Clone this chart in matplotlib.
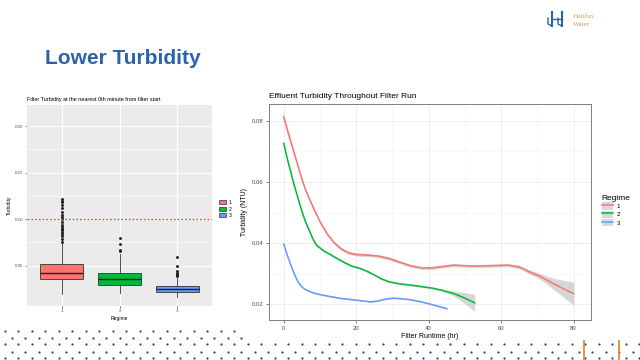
import matplotlib.pyplot as plt
from matplotlib.patches import Patch
from matplotlib.lines import Line2D
import numpy as np

plt.rcParams['font.family'] = ['Liberation Sans', 'DejaVu Sans']

# ---- left chart: boxplot stats ----
regimes = ['1', '2', '3']
box_colors = ['#F8766D', '#00BA38', '#619CFF']
whisker_low = [0.0196, 0.0210, 0.0167]
q1 = [0.0354, 0.0289, 0.0214]
median = [0.0418, 0.0360, 0.0246]
q3 = [0.0515, 0.0418, 0.0279]
whisker_high = [0.0740, 0.0623, 0.0370]
outliers = [
    [0.076, 0.079, 0.082, 0.084, 0.086, 0.088, 0.090, 0.092, 0.094, 0.097,
     0.100, 0.102, 0.105, 0.108, 0.112, 0.115, 0.118, 0.120, 0.122],
    [0.0658, 0.067, 0.073, 0.0795],
    [0.039, 0.040, 0.041, 0.042, 0.0443, 0.050, 0.0597],
]
threshold = 0.10

# ---- right chart: smoothed curves ----
r1_x = [0, 1, 2, 3, 4, 5, 6, 8, 10, 12, 14, 16, 18, 20, 23, 26, 29, 32, 35, 38,
        41, 44, 47, 50, 53, 56, 59, 62, 65, 68, 71, 74, 77, 80]
r1_y = [0.0813, 0.077, 0.073, 0.069, 0.065, 0.061, 0.0575, 0.052, 0.047, 0.043,
        0.040, 0.038, 0.0368, 0.0363, 0.0361, 0.0358, 0.0350, 0.0338, 0.0326,
        0.0319, 0.0319, 0.0324, 0.0328, 0.0326, 0.0325, 0.0326, 0.0327, 0.0328,
        0.0322, 0.0305, 0.0290, 0.0270, 0.0252, 0.0235]
r1_se = [0.0010, 0.0008, 0.0007, 0.0006, 0.0005, 0.0005, 0.0005, 0.0005, 0.0005,
         0.0005, 0.0005, 0.0005, 0.0005, 0.0005, 0.0005, 0.0005, 0.0005, 0.0005,
         0.0005, 0.0005, 0.0005, 0.0005, 0.0005, 0.0005, 0.0005, 0.0005, 0.0005,
         0.0005, 0.0006, 0.0007, 0.0010, 0.0017, 0.0027, 0.0038]

r2_x = [0, 1, 2, 3, 4, 5, 6, 7, 8, 9, 11, 13, 15, 17, 19, 21, 23, 25, 27, 29, 32,
        35, 38, 41, 44, 47, 50, 52.7]
r2_y = [0.0726, 0.0675, 0.063, 0.0585, 0.0545, 0.0505, 0.047, 0.0443, 0.0415,
        0.0394, 0.0375, 0.0362, 0.0348, 0.0335, 0.0324, 0.0318, 0.0308, 0.0296,
        0.0283, 0.0274, 0.0267, 0.0263, 0.0258, 0.0253, 0.0245, 0.0235, 0.0220,
        0.0205]
r2_se = [0.0006, 0.0005, 0.0005, 0.0004, 0.0004, 0.0004, 0.0004, 0.0004, 0.0004,
         0.0004, 0.0003, 0.0003, 0.0003, 0.0003, 0.0003, 0.0003, 0.0003, 0.0003,
         0.0003, 0.0003, 0.0003, 0.0003, 0.0003, 0.0003, 0.0004, 0.0008, 0.0018,
         0.0028]

r3_x = [0, 1, 2, 3, 4, 5, 6, 8, 10, 13, 16, 19, 22, 24, 26, 28, 30, 32, 35, 38,
        41, 45]
r3_y = [0.0397, 0.0360, 0.0327, 0.0297, 0.0272, 0.0257, 0.0248, 0.0238, 0.0232,
        0.0225, 0.0219, 0.0215, 0.0211, 0.0208, 0.0211, 0.0217, 0.0220, 0.0219,
        0.0215, 0.0208, 0.0199, 0.0186]
r3_se = [0.0004, 0.0003, 0.0003, 0.0003, 0.0002, 0.0002, 0.0002, 0.0002, 0.0002,
         0.0002, 0.0002, 0.0002, 0.0002, 0.0002, 0.0002, 0.0002, 0.0002, 0.0002,
         0.0002, 0.0002, 0.0002, 0.0003]

W, H = 640, 360
fig = plt.figure(figsize=(6.4, 3.6), dpi=100)


def frac(x0, y0, x1, y1):
    # pixel box (top-left origin) -> figure fraction rect
    return [x0 / W, 1 - y1 / H, (x1 - x0) / W, (y1 - y0) / H]


# ---------------- left: ggplot-style boxplot ----------------
axl = fig.add_axes(frac(27, 105, 212, 306))
axl.set_facecolor('#EBEBEB')
for s in axl.spines.values():
    s.set_visible(False)
axl.set_xlim(0.4, 3.6)
axl.set_ylim(0.0067, 0.2228)
axl.set_yticks([0.05, 0.10, 0.15, 0.20])
axl.set_yticks([0.075, 0.125, 0.175], minor=True)
axl.set_xticks([1, 2, 3])
axl.set_xticklabels(regimes)
axl.grid(True, which='major', color='white', lw=0.8)
axl.grid(True, which='minor', axis='y', color='white', lw=0.4)
axl.set_axisbelow(True)
axl.tick_params(axis='both', which='major', labelsize=3.2, colors='#4D4D4D',
                length=1.5, width=0.4, pad=1)
axl.tick_params(which='minor', length=0)
axl.yaxis.set_major_formatter(plt.FuncFormatter(lambda v, p: f'{v:.2f}'))

stats = []
for i in range(3):
    stats.append(dict(med=median[i], q1=q1[i], q3=q3[i], whislo=whisker_low[i],
                      whishi=whisker_high[i], fliers=outliers[i]))
bp = axl.bxp(stats, positions=[1, 2, 3], widths=0.75, patch_artist=True,
             showcaps=False,
             boxprops=dict(edgecolor='#333333', lw=0.6),
             medianprops=dict(color='#222222', lw=1.0),
             whiskerprops=dict(color='#333333', lw=0.6),
             flierprops=dict(marker='o', markersize=1.1, markerfacecolor='#222222',
                             markeredgecolor='#222222'))
for patch, c in zip(bp['boxes'], box_colors):
    patch.set_facecolor(c)
axl.axhline(threshold, color='#E8503F', lw=0.9, ls=(0, (1.5, 1.5)))

axl.set_title('Filter Turbidity at the nearest 0th minute from filter start',
              fontsize=4, loc='left', pad=3)
axl.set_xlabel('Regime', fontsize=3.6, labelpad=2)
axl.set_ylabel('Turbidity', fontsize=3.6, labelpad=2)

handles_l = [Patch(facecolor=c, edgecolor='#333333', lw=0.5) for c in box_colors]
leg = fig.legend(handles_l, regimes, loc='center left',
                 bbox_to_anchor=(214 / W, 1 - 209 / H), frameon=False,
                 fontsize=3.6, handlelength=1.4, handleheight=0.9,
                 labelspacing=0.3, handletextpad=0.6)

# ---------------- right: smoothed curves ----------------
axr = fig.add_axes(frac(269, 104, 591, 320))
axr.set_xlim(-4.06, 84.8)
axr.set_ylim(0.01487, 0.0855)
axr.set_xticks([0, 20, 40, 60, 80])
axr.set_xticks([10, 30, 50, 70], minor=True)
axr.set_yticks([0.02, 0.04, 0.06, 0.08])
axr.set_yticks([0.03, 0.05, 0.07], minor=True)
axr.grid(True, which='major', color='#EBEBEB', lw=0.6)
axr.grid(True, which='minor', color='#F3F3F3', lw=0.4)
axr.set_axisbelow(True)
for s in axr.spines.values():
    s.set_color('#7F7F7F')
    s.set_linewidth(0.7)
axr.tick_params(axis='both', which='major', labelsize=4.3, colors='#4D4D4D',
                length=2, width=0.5, pad=2)
axr.tick_params(which='minor', length=0)
axr.yaxis.set_major_formatter(plt.FuncFormatter(lambda v, p: f'{v:.2f}'))

series = [(r1_x, r1_y, r1_se), (r2_x, r2_y, r2_se), (r3_x, r3_y, r3_se)]
for (xs, ys, se), c in zip(series, box_colors):
    xs = np.array(xs)
    ys = np.array(ys)
    se = np.array(se)
    axr.fill_between(xs, ys - se, ys + se, color='#999999', alpha=0.4, lw=0)
    axr.plot(xs, ys, color=c, lw=1.1)

axr.set_title('Effluent Turbidity Throughout Filter Run', fontsize=6, loc='left',
              pad=4)
axr.set_xlabel('Filter Runtime (hr)', fontsize=5, labelpad=2)
axr.set_ylabel('Turbidity (NTU)', fontsize=5, labelpad=3)

handles_r = [(Patch(facecolor='#D9D9D9'), Line2D([], [], color=c, lw=1.1))
             for c in box_colors]
legr = fig.legend(handles_r, regimes, title='Regime', loc='upper left',
                  bbox_to_anchor=(596 / W, 1 - 189 / H), frameon=False,
                  fontsize=4.5, title_fontsize=6, handlelength=1.8,
                  handleheight=1.5, labelspacing=0.1, handletextpad=0.6,
                  alignment='left')

# ---------------- slide decoration ----------------
deco = fig.add_axes([0, 0, 1, 1], zorder=-1)
deco.set_xlim(0, W)
deco.set_ylim(H, 0)
deco.axis('off')

fig.text(45 / W, 1 - 59 / H, 'Lower Turbidity', fontsize=15, fontweight='bold',
         color='#2B62AC', va='center', ha='left')

# dotted band at the bottom
dot_rows = [(331.0, 4.7, 236), (337.7, 11.5, 242), (344.3, 4.7, 640),
            (351.7, 11.5, 640), (358.3, 4.7, 640)]
for y, x0, x1 in dot_rows:
    xs = np.arange(x0, x1, 13.5)
    deco.scatter(xs, np.full(len(xs), y), s=2.6, color='#1F4E8C', lw=0)
for x in [584.3, 619.3]:
    deco.plot([x, x], [340.5, 360], color='#E8892B', lw=1.3)

# logo
for lx in [552, 562]:
    deco.plot([lx, lx], [12, 26], color='#2B62AC', lw=1.5)
    deco.plot([lx - 4, lx - 4, lx], [18, 24, 26], color='#2B62AC', lw=1.0)
deco.plot([552, 562], [19, 19], color='#2B62AC', lw=1.0)
deco.text(573, 17, 'Halifax', fontsize=5.2, color='#E39A57', va='center',
          family=['Liberation Serif', 'DejaVu Serif'])
deco.text(573, 25, 'Water', fontsize=5.2, color='#E39A57', va='center',
          family=['Liberation Serif', 'DejaVu Serif'])

fig.savefig('out.png', dpi=100)
